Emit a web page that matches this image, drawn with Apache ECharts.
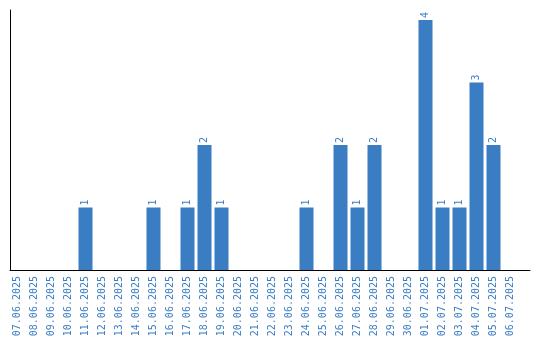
<!DOCTYPE html>
<html><head><meta charset="utf-8">
<script src="https://cdn.jsdelivr.net/npm/echarts@6/dist/echarts.min.js"></script>
<style>html,body{margin:0;padding:0;background:#fff}#c{width:540px;height:340px}</style>
</head><body><div id="c"></div>
<script>
const categories = ["07.06.2025","08.06.2025","09.06.2025","10.06.2025","11.06.2025","12.06.2025","13.06.2025","14.06.2025","15.06.2025","16.06.2025","17.06.2025","18.06.2025","19.06.2025","20.06.2025","21.06.2025","22.06.2025","23.06.2025","24.06.2025","25.06.2025","26.06.2025","27.06.2025","28.06.2025","29.06.2025","30.06.2025","01.07.2025","02.07.2025","03.07.2025","04.07.2025","05.07.2025","06.07.2025"];
const values = [0,0,0,0,1,0,0,0,1,0,1,2,1,0,0,0,0,1,0,2,1,2,0,0,4,1,1,3,2,0];
const chart = echarts.init(document.getElementById('c'), null, {renderer:'canvas'});
const blue = '#3b7dc3';
chart.setOption({
  animation:false,
  grid:[
    {left:9,width:510,top:10,bottom:70,containLabel:false},
    {left:10,right:10,top:10,bottom:70,containLabel:false,z:5}
  ],
  xAxis:[
    {type:'category',data:categories,gridIndex:0,
      axisLine:{show:false},
      axisTick:{show:false},
      axisLabel:{rotate:90,interval:0,color:blue,fontFamily:'DejaVu Sans Mono',fontSize:10,margin:6}},
    {type:'value',gridIndex:1,min:0,max:1,
      axisLine:{show:true,lineStyle:{color:'#000',width:1}},
      axisTick:{show:false},axisLabel:{show:false},splitLine:{show:false}}
  ],
  yAxis:[
    {type:'value',gridIndex:0,min:0,max:4.16,
      axisLine:{show:false},axisTick:{show:false},axisLabel:{show:false},splitLine:{show:false}},
    {type:'value',gridIndex:1,min:0,max:1,
      axisLine:{show:true,lineStyle:{color:'#000',width:1}},
      axisTick:{show:false},axisLabel:{show:false},splitLine:{show:false}}
  ],
  series:[{type:'bar',xAxisIndex:0,yAxisIndex:0,data:values.map(v=>v===0?{value:0,label:{show:false}}:v),barWidth:14,
    itemStyle:{color:blue},
    label:{show:true,position:'top',rotate:90,align:'left',verticalAlign:'middle',distance:2,color:blue,fontFamily:'DejaVu Sans Mono',fontSize:10}}]
});
</script></body></html>
